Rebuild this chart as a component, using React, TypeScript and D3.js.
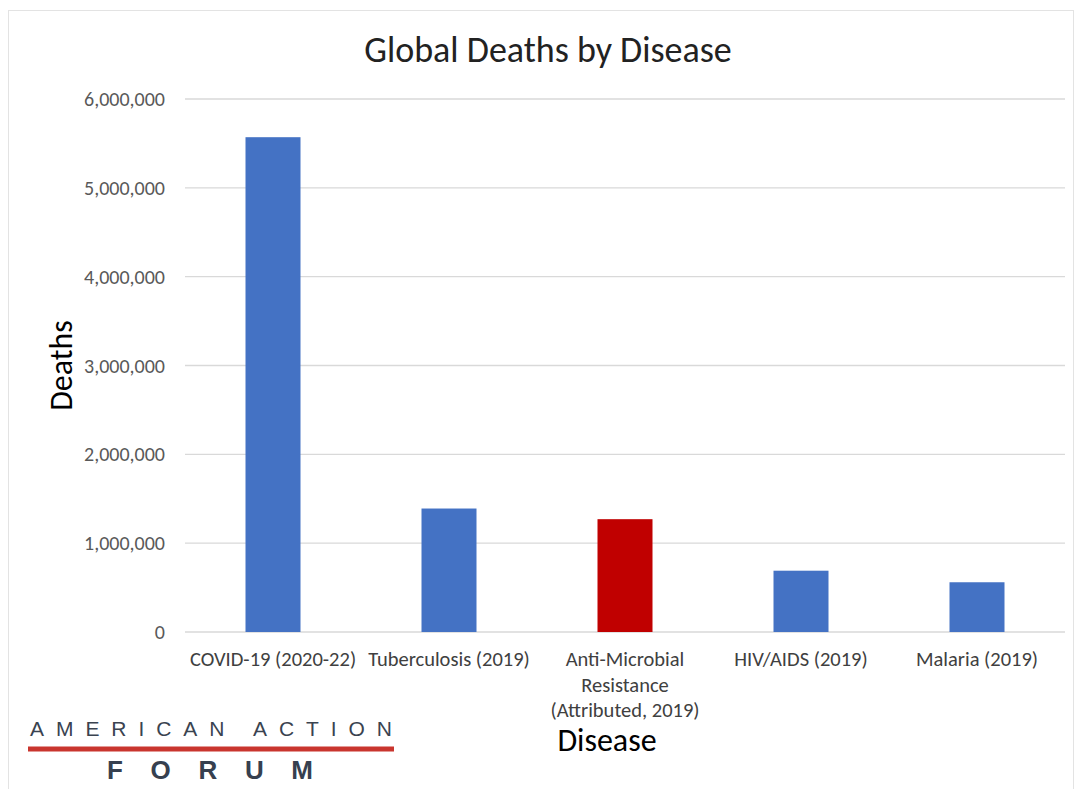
import React, { useEffect } from "react";
import * as d3 from "d3";

const categories = [
  ["COVID-19 (2020-22)"],
  ["Tuberculosis (2019)"],
  ["Anti-Microbial", "Resistance", "(Attributed, 2019)"],
  ["HIV/AIDS (2019)"],
  ["Malaria (2019)"],
];
const deaths = [5570000, 1390000, 1270000, 690000, 560000];
const barColors = ["#4472c4", "#4472c4", "#c00000", "#4472c4", "#4472c4"];
const yTicks = [0, 1000000, 2000000, 3000000, 4000000, 5000000, 6000000];

const W = 1075;
const H = 789;
const margin = { top: 99, right: 10, bottom: 157, left: 185 };
const FONT = "Carlito, Calibri, 'Liberation Sans', Arial, sans-serif";

const App: React.FC = () => {
  useEffect(() => {
    document.body.style.margin = "0";
  }, []);

  const innerW = W - margin.left - margin.right;
  const innerH = H - margin.top - margin.bottom;

  const x = d3.scaleBand<number>()
    .domain(d3.range(categories.length))
    .range([0, innerW])
    .paddingInner(0.6875)
    .paddingOuter(0.34375);

  const y = d3.scaleLinear().domain([0, 6000000]).range([innerH, 0]);
  const fmt = d3.format(",");

  return (
    <svg width={W} height={H} style={{ display: "block", background: "#fff" }} fontFamily={FONT}>
      <rect x={8.5} y={10.5} width={1065} height={790} fill="none" stroke="#e3e3e3" />
      <text x={548} y={62} textAnchor="middle" fontSize={36} fill="#222">
        Global Deaths by Disease
      </text>
      <g transform={`translate(${margin.left},${margin.top})`}>
        {yTicks.map((t) => (
          <g key={t} transform={`translate(0,${y(t)})`}>
            <line x1={0} x2={innerW} stroke="#d9d9d9" strokeWidth={1.3} />
            <text x={-20} dy="0.35em" textAnchor="end" fontSize={20} fill="#595959">
              {fmt(t)}
            </text>
          </g>
        ))}
        {deaths.map((d, i) => (
          <rect
            key={i}
            x={x(i)}
            y={y(d)}
            width={x.bandwidth()}
            height={innerH - y(d)}
            fill={barColors[i]}
          />
        ))}
        {categories.map((lines, i) => (
          <text
            key={i}
            x={(x(i) ?? 0) + x.bandwidth() / 2}
            y={innerH + 34}
            textAnchor="middle"
            fontSize={20.5}
            fill="#404040"
          >
            {lines.map((l, j) => (
              <tspan key={j} x={(x(i) ?? 0) + x.bandwidth() / 2} dy={j === 0 ? 0 : 25.5}>
                {l}
              </tspan>
            ))}
          </text>
        ))}
      </g>
      <text
        transform={`translate(72,${margin.top + innerH / 2}) rotate(-90)`}
        textAnchor="middle"
        fontSize={32}
        fill="#000"
      >
        Deaths
      </text>
      <text x={607} y={751} textAnchor="middle" fontSize={32} fill="#000">
        Disease
      </text>
      <g fontFamily="'Liberation Sans', Arial, sans-serif">
        <text x={30} y={736} fontSize={21} fill="#3a4350" textLength={362} lengthAdjust="spacing">
          AMERICAN ACTION
        </text>
        <rect x={28} y={746.5} width={366} height={5} fill="#c9352e" />
        <text x={107} y={779} fontSize={26} fontWeight="bold" fill="#36404f" textLength={206} lengthAdjust="spacing">
          FORUM
        </text>
      </g>
    </svg>
  );
};

export default App;
